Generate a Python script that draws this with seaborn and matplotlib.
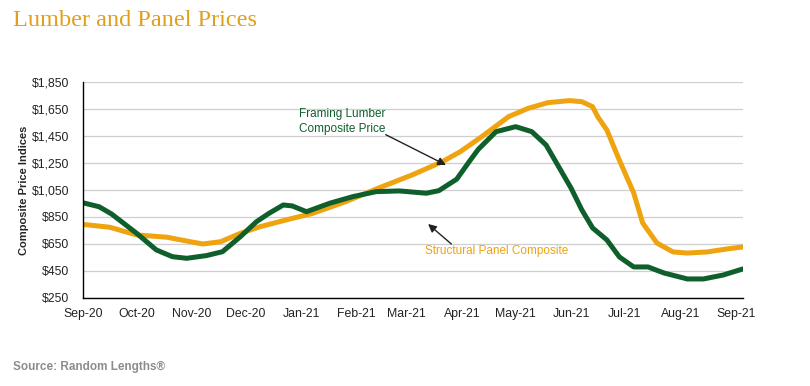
import matplotlib
matplotlib.use("Agg")
import matplotlib.pyplot as plt
import matplotlib.dates as mdates
import matplotlib.ticker as mticker
import pandas as pd
import seaborn as sns

# Framing lumber composite price
lumber_dates = ["2020-09-01", "2020-09-10", "2020-09-17", "2020-10-01", "2020-10-12",
                "2020-10-21", "2020-10-29", "2020-11-09", "2020-11-18", "2020-11-28",
                "2020-12-07", "2020-12-14", "2020-12-22", "2020-12-27", "2021-01-04",
                "2021-01-17", "2021-01-30", "2021-02-12", "2021-02-25", "2021-03-12",
                "2021-03-19", "2021-03-29", "2021-04-05", "2021-04-10", "2021-04-20",
                "2021-05-01", "2021-05-10", "2021-05-18", "2021-05-25", "2021-06-01",
                "2021-06-07", "2021-06-13", "2021-06-21", "2021-06-28", "2021-07-06",
                "2021-07-14", "2021-07-23", "2021-08-05", "2021-08-14", "2021-08-25",
                "2021-09-05"]
lumber_values = [955, 926, 872, 729, 606, 556, 544, 564, 593, 704,
                 815, 877, 939, 932, 889, 952, 1001, 1038, 1043, 1026,
                 1045, 1130, 1260, 1350, 1482, 1519, 1482, 1383, 1223, 1063,
                 902, 769, 680, 554, 480, 480, 435, 391, 391, 420,
                 465]

# Structural panel composite price
panel_dates = ["2020-09-01", "2020-09-16", "2020-10-01", "2020-10-18", "2020-10-31",
               "2020-11-07", "2020-11-17", "2020-11-28", "2020-12-09", "2020-12-25",
               "2021-01-07", "2021-01-26", "2021-02-13", "2021-03-04", "2021-03-21",
               "2021-03-31", "2021-04-12", "2021-04-17", "2021-04-27", "2021-05-08",
               "2021-05-19", "2021-05-31", "2021-06-07", "2021-06-13", "2021-06-16",
               "2021-06-21", "2021-06-28", "2021-07-06", "2021-07-11", "2021-07-19",
               "2021-07-28", "2021-08-05", "2021-08-16", "2021-08-27", "2021-09-05"]
panel_values = [795, 774, 717, 700, 667, 650, 667, 729, 778, 833,
                875, 964, 1063, 1161, 1260, 1334, 1445, 1494, 1593, 1655,
                1697, 1712, 1704, 1667, 1590, 1494, 1270, 1028, 806, 657,
                591, 583, 591, 613, 628]

month_ticks = pd.date_range("2020-09-01", "2021-09-01", freq="MS")
y_ticks = list(range(250, 1851, 200))

green = "#0f5f2c"
orange = "#efa30f"
title_color = "#e29f1c"

lumber = pd.DataFrame({"date": pd.to_datetime(lumber_dates), "value": lumber_values})
panel = pd.DataFrame({"date": pd.to_datetime(panel_dates), "value": panel_values})

sns.set_style("white")
plt.rcParams['font.family'] = ['Liberation Sans', 'DejaVu Sans']

fig = plt.figure(figsize=(8.1, 3.86), dpi=100)
ax = fig.add_axes([0.1025, 0.228, 0.8145, 0.5596])

sns.lineplot(data=panel, x="date", y="value", color=orange, linewidth=3.6, ax=ax,
             solid_capstyle="round", solid_joinstyle="round")
sns.lineplot(data=lumber, x="date", y="value", color=green, linewidth=3.6, ax=ax,
             solid_capstyle="round", solid_joinstyle="round")

ax.set_ylim(250, 1850)
ax.set_xlim(pd.Timestamp("2020-09-01"), pd.Timestamp("2021-09-05"))
ax.set_yticks(y_ticks)
ax.yaxis.set_major_formatter(mticker.FuncFormatter(lambda v, p: "${:,.0f}".format(v)))
ax.set_xticks(month_ticks)
ax.xaxis.set_major_formatter(mdates.DateFormatter("%b-%y"))
ax.yaxis.grid(True, color="#cfcfcf", linewidth=0.9)
ax.xaxis.grid(False)
ax.set_axisbelow(True)

for s in ["top", "right"]:
    ax.spines[s].set_visible(False)
for s in ["left", "bottom"]:
    ax.spines[s].set_color("black")
    ax.spines[s].set_linewidth(1.0)
ax.tick_params(axis="both", direction="out", length=4, width=1, color="black",
               labelsize=8.8, labelcolor="#222222", pad=3)
ax.tick_params(axis="y", pad=6)

ax.set_xlabel("")
ax.set_ylabel("Composite Price Indices", fontsize=8, fontweight="bold", labelpad=2)

# annotations
ax.annotate("Framing Lumber\nComposite Price",
            xy=(pd.Timestamp("2021-03-23"), 1235), xytext=(pd.Timestamp("2020-12-31"), 1557),
            fontsize=8.5, color=green, va="center", ha="left", linespacing=1.25,
            arrowprops=dict(arrowstyle="-|>", color="#222222", lw=1.0,
                            shrinkA=0, shrinkB=0, mutation_scale=12,
                            relpos=(1.0, 0.0), patchA=None))
ax.annotate("", xy=(pd.Timestamp("2021-03-13"), 798), xytext=(pd.Timestamp("2021-03-26"), 650),
            arrowprops=dict(arrowstyle="-|>", color="#222222", lw=1.0,
                            shrinkA=0, shrinkB=0, mutation_scale=12))
ax.text(pd.Timestamp("2021-03-11"), 598, "Structural Panel Composite",
        fontsize=8.5, color=orange, va="center", ha="left")

fig.text(13 / 810, 1 - 20 / 386, "Lumber and Panel Prices", fontsize=17.5,
         family=["Liberation Serif", "DejaVu Serif"], color=title_color, va="center", ha="left")
fig.text(13 / 810, 1 - 367 / 386, "Source: Random Lengths\u00ae", fontsize=8.5,
         fontweight="bold", color="#8c8c8c", va="center", ha="left")

fig.savefig("out.png", dpi=100)
